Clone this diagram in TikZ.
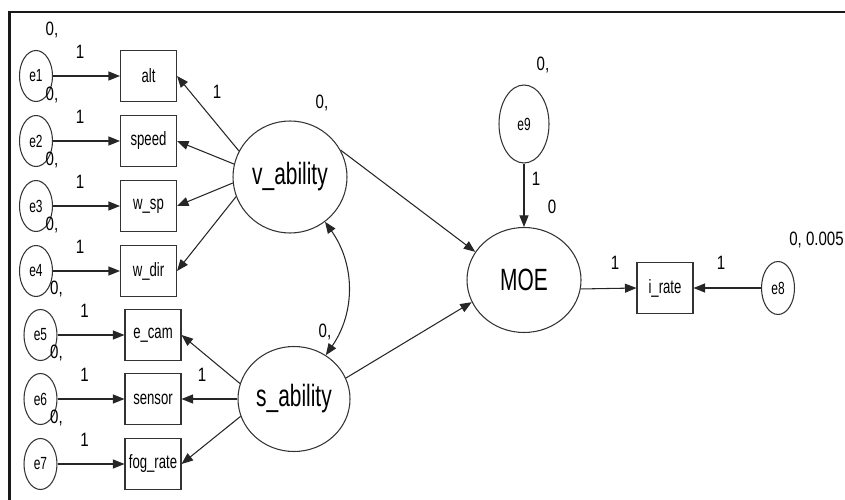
\documentclass[tikz,border=0pt]{standalone}
\usepackage{fontspec}
\setmainfont{Liberation Sans}[FakeStretch=0.68]
\newfontfamily\numfont{Liberation Sans}[FakeStretch=0.78]
\usetikzlibrary{positioning}
\usetikzlibrary{shapes.geometric}
\usetikzlibrary{arrows.meta}
\tikzset{
	every node/.style = {font=\fontsize{11}{12}\selectfont},
	obs/.style = {draw=black!80, line width=0.6pt, rectangle, minimum width=1.12cm, minimum height=1.02cm, inner sep=0pt},
	err/.style = {draw=black!80, line width=0.6pt, ellipse, minimum width=0.66cm, minimum height=1.02cm, inner sep=0pt, font=\fontsize{10}{11}\selectfont},
	lat/.style = {draw=black!80, line width=0.6pt, ellipse, inner sep=0pt, font=\fontsize{17.5}{20}\selectfont},
	num/.style = {font=\numfont\fontsize{11}{12}\selectfont},
	conn/.style = {-{Triangle[length=2.3mm,width=1.8mm]}, line width=0.6pt, black!85},
	cov/.style = {{Triangle[length=2.3mm,width=1.8mm]}-{Triangle[length=2.3mm,width=1.8mm]}, line width=0.6pt, black!85}
}

\begin{document}
\begin{tikzpicture}
	\useasboundingbox (0,0) rectangle (16.9,-10);
	% frame
	\draw[line width=1.3pt, black!90] (0.19,-10) -- (0.19,-0.24) -- (16.9,-0.24);

	% errors and indicators
	\foreach \i/\x/\y/\ind/\lab in {1/0.72/-1.52/alt/alt, 2/0.72/-2.82/speed/speed, 3/0.72/-4.12/wsp/w\_sp, 4/0.72/-5.42/wdir/w\_dir, 5/0.81/-6.70/ecam/e\_cam, 6/0.81/-7.98/sensor/sensor, 7/0.81/-9.28/fog/fog\_rate}
	{
		\node[err] (e\i) at (\x,\y) {e\i};
		\node[obs] (\ind) at (\x+2.25,\y) {\lab};
		\node[num] at (\x+0.32,\y+0.92) {0,};
		\node[num] at (\x+0.88,\y+0.48) {1};
		\draw[conn] (e\i) -- (\ind);
	}

	% latents
	\node[lat, minimum width=2.28cm, minimum height=2.24cm] (vab) at (5.80,-3.54) {v\_ability};
	\node[lat, minimum width=2.24cm, minimum height=2.10cm] (sab) at (5.88,-7.98) {s\_ability};
	\node[lat, minimum width=2.28cm, minimum height=2.10cm] (moe) at (10.48,-5.60) {MOE};
	\node[err, minimum width=1.0cm, minimum height=1.56cm] (e9) at (10.48,-2.48) {e9};
	\node[obs] (irate) at (13.30,-5.76) {i\_rate};
	\node[err, minimum height=1.06cm] (e8) at (15.56,-5.76) {e8};

	% loadings
	\draw[conn] (vab.153) -- (alt.east);
	\draw[conn] (vab.167) -- (speed.east);
	\draw[conn] (vab.186) -- (wsp.east);
	\draw[conn] (vab.200) -- (wdir.east);
	\draw[conn] (sab.164) -- (ecam.east);
	\draw[conn] (sab.180) -- (sensor.east);
	\draw[conn] (sab.198) -- (fog.east);

	% structural part
	\draw[conn] (vab.28) -- (moe.150);
	\draw[conn] (sab.22) -- (moe.203);
	\draw[cov] (vab.-52) to[bend left=35] (sab.54);
	\draw[conn] (e9) -- (moe);
	\draw[conn] (moe.-9) -- (irate.west);
	\draw[conn] (e8) -- (irate);

	% estimates
	\node[num] at (4.34,-1.84) {1};
	\node[num] at (6.44,-2.06) {0,};
	\node[num] at (4.04,-7.50) {1};
	\node[num] at (6.50,-6.64) {0,};
	\node[num] at (10.86,-1.30) {0,};
	\node[num] at (10.72,-3.58) {1};
	\node[num] at (11.04,-4.14) {0};
	\node[num] at (12.30,-5.26) {1};
	\node[num] at (14.42,-5.26) {1};
	\node[num] at (16.33,-4.80) {0, 0.005};
\end{tikzpicture}
\end{document}
